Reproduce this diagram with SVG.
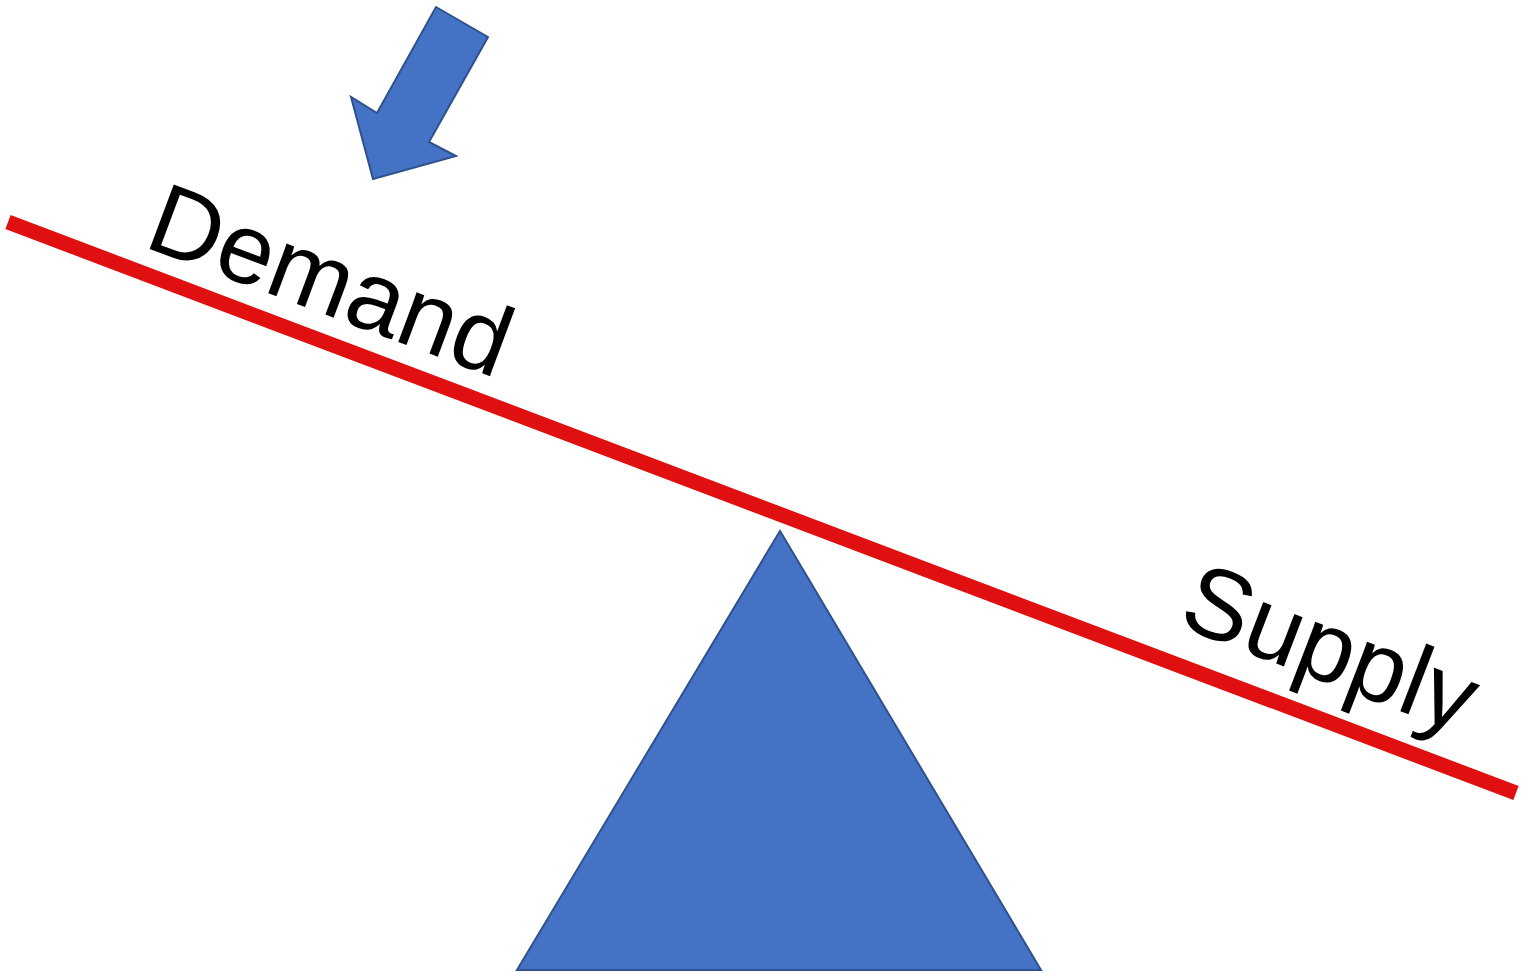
<svg xmlns="http://www.w3.org/2000/svg" width="1525" height="973" viewBox="0 0 1525 973">
<style>
.blue{fill:#4472C4;stroke:#2F528F;stroke-width:2;stroke-linejoin:miter}
.lbl{font-family:"Liberation Sans",Arial,sans-serif;font-size:100px;fill:#000}
</style>
<rect width="1525" height="973" fill="#fff"/>
<g id="fulcrum"><polygon class="blue" points="780,531 517,970 1041,970"/></g>
<g id="beam"><line x1="8" y1="222" x2="1516" y2="793" stroke="#E01010" stroke-width="15" stroke-linecap="butt"/></g>
<g id="arrow"><polygon class="blue" points="436,7 488,37 429,142 456,156 373,179 351,97 377,113"/></g>
<g id="demand-label"><text class="lbl" transform="translate(142,246) rotate(20.5)">Demand</text></g>
<g id="supply-label"><text class="lbl" transform="translate(1176,625) rotate(21)">Supply</text></g>
</svg>
